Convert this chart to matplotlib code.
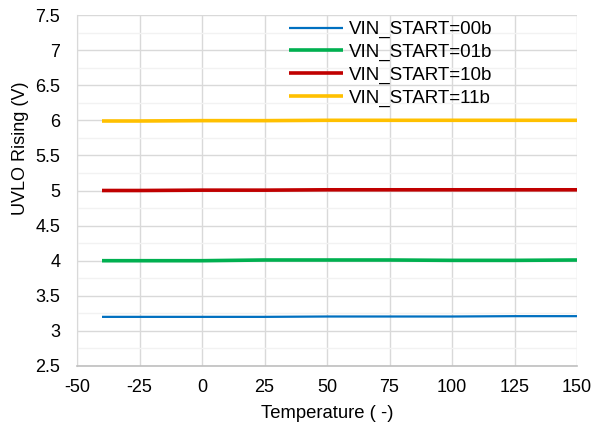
import matplotlib
matplotlib.use("Agg")
import matplotlib.pyplot as plt
from matplotlib.ticker import MultipleLocator

plt.rcParams['font.family'] = ['Liberation Sans', 'DejaVu Sans']
plt.rcParams['axes.unicode_minus'] = False

temps = [-40, -25, 0, 25, 50, 75, 100, 125, 150]
v00 = [3.20, 3.20, 3.20, 3.20, 3.205, 3.205, 3.205, 3.21, 3.21]
v01 = [4.00, 4.00, 4.00, 4.01, 4.01, 4.01, 4.005, 4.005, 4.01]
v10 = [5.00, 5.00, 5.005, 5.005, 5.01, 5.01, 5.01, 5.01, 5.01]
v11 = [5.99, 5.99, 5.995, 5.995, 6.00, 6.00, 6.00, 6.00, 6.00]
labels = ["VIN_START=00b", "VIN_START=01b", "VIN_START=10b", "VIN_START=11b"]
colors = ["#0070C0", "#00B050", "#C00000", "#FFC000"]
widths = [1.6, 2.6, 2.6, 2.6]
xticks = [-50, -25, 0, 25, 50, 75, 100, 125, 150]
yticks = [2.5, 3, 3.5, 4, 4.5, 5, 5.5, 6, 6.5, 7, 7.5]
ytick_labels = ["2.5", "3", "3.5", "4", "4.5", "5", "5.5", "6", "6.5", "7", "7.5"]

fig = plt.figure(figsize=(5.95, 4.32), dpi=100)
ax = fig.add_axes([77/595, 1-366/432, 500/595, 351/432])

for ys, lab, c, w in zip([v00, v01, v10, v11], labels, colors, widths):
    ax.plot(temps, ys, color=c, lw=w, label=lab, solid_capstyle='butt', zorder=3)

ax.set_xlim(-50, 150)
ax.set_ylim(2.5, 7.5)
ax.set_xticks(xticks)
ax.set_xticklabels([str(t) for t in xticks])
ax.set_yticks(yticks)
ax.set_yticklabels(ytick_labels)
ax.yaxis.set_minor_locator(MultipleLocator(0.25))
ax.grid(which='major', color='#D9D9D9', lw=1.0, zorder=0)
ax.grid(which='minor', axis='y', color='#F2F2F2', lw=1.0, zorder=0)
ax.tick_params(which='both', length=0, labelsize=13, colors='#000000')
ax.tick_params(axis='y', pad=12)
ax.tick_params(axis='x', pad=9)
for s in ['top', 'right']:
    ax.spines[s].set_visible(False)
ax.spines['left'].set_color('#D9D9D9')
ax.spines['bottom'].set_color('#BFBFBF')
ax.spines['bottom'].set_linewidth(1.2)

ax.set_xlabel("Temperature ( -)", fontsize=13.3, labelpad=7)
ax.set_ylabel("UVLO Rising (V)", fontsize=13.0, va='center')
ax.yaxis.set_label_coords(-0.114, 0.62)

leg = ax.legend(loc='upper right', bbox_to_anchor=(0.83, 0.983), frameon=False,
                fontsize=13.5, handlelength=2.9, handletextpad=0.27,
                labelspacing=0.3, borderaxespad=0.0, borderpad=0.0)

fig.savefig("out.png", dpi=100)
